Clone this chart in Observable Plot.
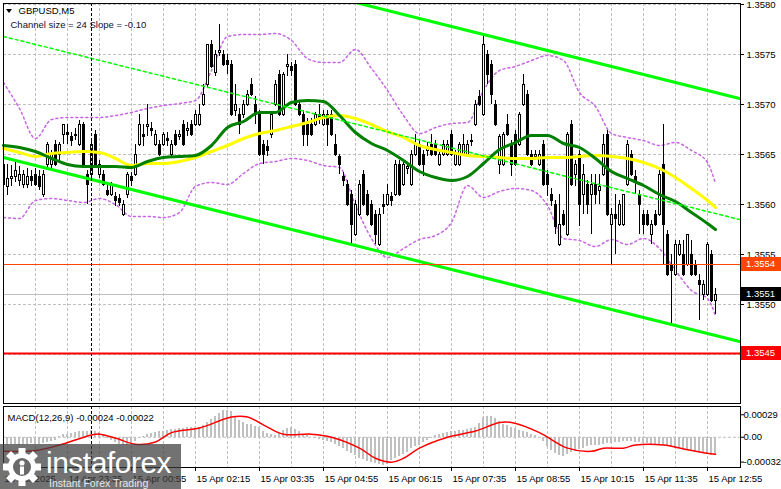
<!DOCTYPE html>
<html>
<head>
<meta charset="utf-8">
<script src="https://cdn.jsdelivr.net/npm/d3@7"></script>
<script src="https://cdn.jsdelivr.net/npm/@observablehq/plot@0.6"></script>
<style>
html,body{margin:0;padding:0;background:#fff;overflow:hidden;}
#wrap{position:relative;width:781px;height:489px;background:#fff;}
#main{position:absolute;left:0;top:0;}
#macd{position:absolute;left:0;top:403px;}
#logo{position:absolute;left:0;top:444px;}
svg{display:block;}
</style>
</head>
<body>
<div id="wrap"><div id="main"></div><div id="macd"></div><svg id="logo" width="181" height="45"></svg></div>
<script>
const FONT = '"Liberation Sans", Arial, sans-serif';

// ---------- data (GBPUSD M5, 15 Apr 2025) ----------
const symbolTitle = "GBPUSD,M5";
const channelText = "Channel size = 24 Slope = -0.10";
const macdTitle = "MACD(12,26,9) -0.00024 -0.00022";
const startTime = "2025-04-14T22:15:00Z";   // first bar
const barMinutes = 5;

const opens = [
1.35640,1.35618,1.35626,1.35628,1.35624,1.35620,1.35620,1.35628,1.35630,1.35628,
1.35610,1.35640,1.35640,1.35660,1.35650,1.35670,1.35672,1.35668,1.35670,1.35660,
1.35680,1.35630,1.35630,1.35670,1.35630,1.35630,1.35614,1.35610,1.35608,1.35606,
1.35590,1.35610,1.35628,1.35630,1.35660,1.35670,1.35678,1.35676,1.35660,1.35660,
1.35660,1.35666,1.35650,1.35670,1.35668,1.35680,1.35674,1.35680,1.35680,1.35680,
1.35700,1.35720,1.35760,1.35732,1.35752,1.35750,1.35744,1.35740,1.35694,1.35690,
1.35690,1.35700,1.35720,1.35700,1.35690,1.35660,1.35658,1.35670,1.35700,1.35730,
1.35690,1.35738,1.35738,1.35740,1.35700,1.35690,1.35680,1.35680,1.35680,1.35690,
1.35680,1.35690,1.35690,1.35660,1.35648,1.35628,1.35620,1.35610,1.35570,1.35590,
1.35630,1.35610,1.35600,1.35590,1.35560,1.35600,1.35600,1.35608,1.35610,1.35640,
1.35620,1.35636,1.35620,1.35650,1.35660,1.35650,1.35654,1.35660,1.35660,1.35640,
1.35650,1.35650,1.35670,1.35640,1.35640,1.35650,1.35650,1.35664,1.35680,1.35708,
1.35690,1.35750,1.35740,1.35700,1.35640,1.35640,1.35680,1.35660,1.35670,1.35660,
1.35700,1.35710,1.35650,1.35648,1.35640,1.35660,1.35630,1.35610,1.35600,1.35560,
1.35590,1.35570,1.35680,1.35630,1.35650,1.35610,1.35620,1.35610,1.35620,1.35614,
1.35630,1.35670,1.35580,1.35590,1.35580,1.35580,1.35620,1.35650,1.35628,1.35610,
1.35590,1.35590,1.35570,1.35590,1.35590,1.35640,1.35570,1.35540,1.35530,1.35550,
1.35550,1.35540,1.35550,1.35540,1.35524,1.35510,1.35510,1.35550,1.35504];
const highs = [
1.35644,1.35640,1.35639,1.35644,1.35638,1.35634,1.35636,1.35634,1.35636,1.35634,
1.35634,1.35662,1.35654,1.35664,1.35662,1.35680,1.35680,1.35672,1.35676,1.35684,
1.35682,1.35634,1.35664,1.35674,1.35644,1.35634,1.35620,1.35622,1.35612,1.35610,
1.35604,1.35632,1.35632,1.35660,1.35690,1.35680,1.35700,1.35682,1.35674,1.35664,
1.35672,1.35672,1.35664,1.35674,1.35674,1.35684,1.35682,1.35684,1.35694,1.35700,
1.35720,1.35760,1.35764,1.35754,1.35780,1.35754,1.35750,1.35744,1.35720,1.35696,
1.35704,1.35714,1.35726,1.35708,1.35694,1.35664,1.35664,1.35692,1.35724,1.35734,
1.35732,1.35750,1.35742,1.35744,1.35704,1.35694,1.35686,1.35686,1.35692,1.35700,
1.35694,1.35694,1.35694,1.35670,1.35650,1.35632,1.35624,1.35614,1.35604,1.35624,
1.35634,1.35614,1.35604,1.35594,1.35596,1.35610,1.35620,1.35612,1.35644,1.35644,
1.35644,1.35642,1.35654,1.35670,1.35664,1.35654,1.35662,1.35670,1.35664,1.35654,
1.35664,1.35664,1.35674,1.35654,1.35662,1.35670,1.35664,1.35670,1.35704,1.35714,
1.35770,1.35754,1.35744,1.35704,1.35670,1.35672,1.35690,1.35664,1.35674,1.35692,
1.35730,1.35714,1.35654,1.35654,1.35654,1.35664,1.35634,1.35616,1.35604,1.35610,
1.35594,1.35672,1.35684,1.35644,1.35654,1.35640,1.35624,1.35630,1.35630,1.35630,
1.35670,1.35674,1.35596,1.35610,1.35604,1.35610,1.35664,1.35654,1.35634,1.35614,
1.35594,1.35594,1.35584,1.35594,1.35634,1.35680,1.35574,1.35550,1.35564,1.35564,
1.35564,1.35570,1.35564,1.35544,1.35530,1.35524,1.35562,1.35554,1.35516];
const lows = [
1.35616,1.35609,1.35618,1.35622,1.35618,1.35616,1.35616,1.35618,1.35618,1.35614,
1.35607,1.35636,1.35636,1.35638,1.35644,1.35660,1.35660,1.35658,1.35664,1.35658,
1.35638,1.35600,1.35626,1.35638,1.35626,1.35618,1.35608,1.35608,1.35598,1.35598,
1.35588,1.35606,1.35618,1.35628,1.35658,1.35658,1.35668,1.35668,1.35658,1.35648,
1.35658,1.35658,1.35648,1.35658,1.35664,1.35658,1.35668,1.35668,1.35678,1.35678,
1.35698,1.35716,1.35736,1.35728,1.35748,1.35738,1.35730,1.35688,1.35688,1.35670,
1.35686,1.35698,1.35708,1.35680,1.35648,1.35640,1.35648,1.35666,1.35698,1.35688,
1.35688,1.35728,1.35728,1.35698,1.35688,1.35658,1.35658,1.35668,1.35678,1.35680,
1.35678,1.35658,1.35668,1.35648,1.35630,1.35618,1.35598,1.35560,1.35568,1.35588,
1.35598,1.35588,1.35578,1.35560,1.35558,1.35590,1.35598,1.35598,1.35608,1.35608,
1.35618,1.35630,1.35618,1.35648,1.35638,1.35628,1.35648,1.35648,1.35648,1.35638,
1.35648,1.35648,1.35648,1.35638,1.35638,1.35648,1.35648,1.35658,1.35678,1.35698,
1.35688,1.35720,1.35700,1.35678,1.35630,1.35638,1.35668,1.35628,1.35638,1.35658,
1.35698,1.35648,1.35638,1.35644,1.35638,1.35618,1.35608,1.35598,1.35570,1.35558,
1.35578,1.35568,1.35618,1.35618,1.35578,1.35590,1.35590,1.35570,1.35600,1.35600,
1.35628,1.35588,1.35540,1.35550,1.35578,1.35578,1.35618,1.35628,1.35610,1.35570,
1.35570,1.35578,1.35560,1.35578,1.35588,1.35540,1.35528,1.35479,1.35528,1.35548,
1.35528,1.35538,1.35528,1.35528,1.35484,1.35504,1.35508,1.35502,1.35490];
const closes = [
1.35620,1.35626,1.35628,1.35634,1.35630,1.35630,1.35628,1.35624,1.35620,1.35618,
1.35630,1.35660,1.35650,1.35640,1.35660,1.35680,1.35670,1.35664,1.35669,1.35680,
1.35640,1.35620,1.35660,1.35640,1.35640,1.35620,1.35610,1.35620,1.35604,1.35602,
1.35600,1.35630,1.35624,1.35650,1.35680,1.35668,1.35680,1.35674,1.35670,1.35650,
1.35670,1.35664,1.35660,1.35660,1.35670,1.35660,1.35676,1.35670,1.35690,1.35690,
1.35710,1.35760,1.35738,1.35750,1.35754,1.35740,1.35740,1.35690,1.35700,1.35680,
1.35700,1.35710,1.35710,1.35690,1.35650,1.35650,1.35654,1.35690,1.35720,1.35690,
1.35730,1.35740,1.35734,1.35700,1.35690,1.35670,1.35670,1.35670,1.35690,1.35686,
1.35690,1.35680,1.35670,1.35650,1.35640,1.35624,1.35600,1.35580,1.35600,1.35620,
1.35600,1.35590,1.35580,1.35570,1.35590,1.35598,1.35610,1.35604,1.35640,1.35610,
1.35640,1.35638,1.35650,1.35660,1.35640,1.35640,1.35658,1.35650,1.35650,1.35650,
1.35660,1.35660,1.35650,1.35650,1.35660,1.35660,1.35660,1.35663,1.35700,1.35700,
1.35760,1.35730,1.35710,1.35680,1.35668,1.35670,1.35670,1.35640,1.35640,1.35690,
1.35720,1.35650,1.35640,1.35650,1.35650,1.35620,1.35620,1.35604,1.35578,1.35580,
1.35580,1.35670,1.35620,1.35640,1.35600,1.35630,1.35600,1.35620,1.35610,1.35618,
1.35660,1.35590,1.35590,1.35586,1.35600,1.35610,1.35660,1.35630,1.35624,1.35600,
1.35580,1.35580,1.35580,1.35580,1.35630,1.35580,1.35530,1.35534,1.35560,1.35560,
1.35530,1.35570,1.35530,1.35530,1.35520,1.35520,1.35560,1.35504,1.35510];

// moving averages / bands, read every 4th bar (+ last bar)
const maGreen = [1.35659,1.35657,1.35653,1.35646,1.35640,1.35638,1.35638,1.35638,1.35637,1.35643,1.35647,1.35648,1.35649,1.35659,1.35677,1.35683,1.35692,1.35692,1.35702,1.35704,1.35703,1.35689,1.35672,1.35661,1.35654,1.35644,1.35633,1.35627,1.35624,1.35628,1.35641,1.35655,1.35662,1.35669,1.35669,1.35661,1.35657,1.35646,1.35633,1.35626,1.35619,1.35610,1.35603,1.35592,1.35581,1.35575];
const maYellow = [1.35656,1.35652,1.35648,1.35651,1.35652,1.35653,1.35652,1.35646,1.35639,1.35641,1.35641,1.35643,1.35647,1.35653,1.35659,1.35666,1.35671,1.35674,1.35678,1.35682,1.35687,1.35689,1.35686,1.35680,1.35673,1.35667,1.35659,1.35655,1.35652,1.35649,1.35648,1.35647,1.35646,1.35646,1.35647,1.35647,1.35648,1.35649,1.35648,1.35646,1.35642,1.35636,1.35627,1.35616,1.35604,1.35597];
const bandUpper = [1.35722,1.35696,1.35666,1.35685,1.35687,1.35687,1.35687,1.35689,1.35692,1.35696,1.35699,1.35701,1.35704,1.35734,1.35768,1.35770,1.35770,1.35771,1.35764,1.35746,1.35742,1.35742,1.35755,1.35736,1.35714,1.35689,1.35671,1.35677,1.35681,1.35682,1.35714,1.35734,1.35738,1.35744,1.35749,1.35744,1.35712,1.35698,1.35671,1.35667,1.35664,1.35659,1.35662,1.35654,1.35642,1.35621];
const bandLower = [1.35587,1.35586,1.35604,1.35606,1.35604,1.35602,1.35606,1.35600,1.35588,1.35588,1.35587,1.35592,1.35618,1.35622,1.35620,1.35631,1.35641,1.35643,1.35646,1.35644,1.35639,1.35637,1.35599,1.35566,1.35547,1.35556,1.35565,1.35569,1.35582,1.35619,1.35607,1.35613,1.35616,1.35614,1.35599,1.35566,1.35564,1.35558,1.35565,1.35560,1.35566,1.35556,1.35534,1.35514,1.35506,1.35489];

// regression channel (end points)
const channelTimes = ["2025-04-14T22:15:00Z", "2025-04-15T13:35:00Z"];
const channelUpper = [1.35890, 1.35706];
const channelMiddle = [1.35768, 1.35585];
const channelLower = [1.35647, 1.35463];

// horizontal levels and separator
const orangeLevel = 1.3554;
const bidLevel = 1.3551;
const redLevel = 1.3545;
const separatorTime = "2025-04-15T00:05:00Z";

// price axis
const priceTicks = [1.3545, 1.3550, 1.3555, 1.3560, 1.3565, 1.3570, 1.3575, 1.3580];

// MACD histogram (one per bar)
const macdHist = [
-0.00010,-0.00010,-0.00009,-0.00009,-0.00010,-0.00009,-0.00009,-0.00008,-0.00009,-0.00009,
-0.00008,-0.00007,-0.00006,-0.00004,0.00001,0.00003,0.00004,0.00005,0.00006,0.00007,
0.00008,0.00008,0.00009,0.00008,0.00006,0.00003,-0.00001,-0.00004,-0.00007,-0.00009,
-0.00010,-0.00010,-0.00008,-0.00005,-0.00002,0.00001,0.00003,0.00005,0.00006,0.00007,
0.00008,0.00009,0.00010,0.00010,0.00011,0.00011,0.00012,0.00012,0.00012,0.00013,
0.00015,0.00019,0.00023,0.00027,0.00031,0.00034,0.00035,0.00033,0.00026,0.00022,
0.00019,0.00017,0.00016,0.00014,0.00012,0.00008,0.00005,0.00003,0.00002,0.00006,
0.00009,0.00011,0.00012,0.00010,0.00008,0.00004,0.00002,0.00000,-0.00002,-0.00003,
-0.00004,-0.00005,-0.00007,-0.00009,-0.00012,-0.00015,-0.00018,-0.00021,-0.00024,-0.00027,
-0.00029,-0.00031,-0.00033,-0.00034,-0.00035,-0.00036,-0.00035,-0.00030,-0.00027,-0.00025,
-0.00022,-0.00019,-0.00015,-0.00012,-0.00010,-0.00007,-0.00004,-0.00001,0.00002,0.00004,
0.00005,0.00006,0.00007,0.00008,0.00009,0.00009,0.00010,0.00011,0.00012,0.00018,
0.00025,0.00027,0.00027,0.00024,0.00020,0.00017,0.00015,0.00013,0.00011,0.00009,
0.00007,0.00006,0.00004,0.00002,0.00000,-0.00006,-0.00012,-0.00017,-0.00021,-0.00024,
-0.00025,-0.00022,-0.00020,-0.00018,-0.00016,-0.00014,-0.00012,-0.00011,-0.00010,-0.00010,
-0.00009,-0.00008,-0.00008,-0.00007,-0.00007,-0.00006,-0.00006,-0.00006,-0.00007,-0.00007,
-0.00008,-0.00008,-0.00009,-0.00009,-0.00009,-0.00010,-0.00011,-0.00013,-0.00014,-0.00015,
-0.00016,-0.00017,-0.00018,-0.00019,-0.00020,-0.00021,-0.00022,-0.00023,-0.00024];
// MACD signal line, read at these bars
const signalBars = [0,8,14,22,24,28,33,38,42,49,57,61,66,70,77,82,89,93,97,100,104,111,118,124,127,134,141,147,150,155,158,165,170,175,178];
const signalValues = [-0.00018,-0.00017,-0.00010,0.00003,0.00004,-0.00001,-0.00009,-0.00006,0.00006,0.00012,0.00026,0.00026,0.00013,0.00004,0.00004,0.00000,-0.00014,-0.00027,-0.00032,-0.00027,-0.00014,0.00000,0.00008,0.00019,0.00019,0.00006,-0.00014,-0.00018,-0.00014,-0.00014,-0.00010,-0.00010,-0.00015,-0.00020,-0.00022];
const macdTicks = [0.00029, 0, -0.00032];

// time axis labels
const timeTicks = ["2025-04-14T22:15:00Z","2025-04-14T23:35:00Z","2025-04-15T00:55:00Z","2025-04-15T02:15:00Z","2025-04-15T03:35:00Z","2025-04-15T04:55:00Z","2025-04-15T06:15:00Z","2025-04-15T07:35:00Z","2025-04-15T08:55:00Z","2025-04-15T10:15:00Z","2025-04-15T11:35:00Z","2025-04-15T12:55:00Z"];
const timeLabels = ["14 Apr 2025","14 Apr 23:35","15 Apr 00:55","15 Apr 02:15","15 Apr 03:35","15 Apr 04:55","15 Apr 06:15","15 Apr 07:35","15 Apr 08:55","15 Apr 10:15","15 Apr 11:35","15 Apr 12:55"];

// ---------- build ----------
const MIN = 60000;
const t0 = new Date(startTime).getTime();
const barTime = i => new Date(t0 + i * barMinutes * MIN);
const xDomain = [new Date(t0), new Date(t0 + 921.25 * MIN)];
const half = 75 * 1000;      // half body width
const halfH = 112 * 1000;    // half histogram width

const candles = opens.map((o, i) => ({t: barTime(i), o, h: highs[i], l: lows[i], c: closes[i]}));
const sampleBars = d3.range(0, 177, 4).concat([178]);
const series = arr => arr.map((v, k) => ({t: barTime(sampleBars[k]), v}));
const chan = arr => arr.map((v, k) => ({t: new Date(channelTimes[k]), v}));
const gridTimes = d3.range(1, 23).map(k => new Date(t0 + k * 40 * MIN));
const sepT = new Date(separatorTime);

const style = {fontFamily: FONT, fontSize: "9.5px", color: "#000", background: "transparent", overflow: "visible"};
const grid = {stroke: "#c0c0c0", strokeDasharray: "3,2"};

const main = Plot.plot({
  width: 781, height: 405,
  marginLeft: 3, marginRight: 41, marginTop: 3, marginBottom: 2,
  style,
  x: {type: "utc", domain: xDomain, axis: null},
  y: {domain: [1.35401, 1.35801], axis: "right", ticks: priceTicks, tickFormat: d => d.toFixed(4), tickSize: 3, tickPadding: 3, label: null},
  marks: [
    Plot.ruleX(gridTimes, grid),
    Plot.ruleY(priceTicks, grid),
    Plot.line(series(bandUpper), {x: "t", y: "v", stroke: "#c864e6", strokeDasharray: "2,3", curve: "monotone-x", clip: true}),
    Plot.line(series(bandLower), {x: "t", y: "v", stroke: "#c864e6", strokeDasharray: "2,3", curve: "monotone-x", clip: true}),
    Plot.ruleY([bidLevel], {stroke: "#c0c0c0"}),
    Plot.ruleX(candles, {x: "t", y1: "l", y2: "h", stroke: "#000", clip: true}),
    Plot.rect(candles, {x1: d => new Date(+d.t - half), x2: d => new Date(+d.t + half), y1: "o", y2: "c",
      fill: d => d.c > d.o ? "#ffffff" : "#000000", stroke: "#000", clip: true, shapeRendering: "crispEdges"}),
    Plot.line(series(maYellow), {x: "t", y: "v", stroke: "#ffff00", strokeWidth: 3, curve: "monotone-x"}),
    Plot.line(series(maGreen), {x: "t", y: "v", stroke: "#008000", strokeWidth: 3, curve: "monotone-x"}),
    Plot.line(chan(channelMiddle), {x: "t", y: "v", stroke: "#00ff00", strokeDasharray: "3,3", clip: true}),
    Plot.line(chan(channelUpper), {x: "t", y: "v", stroke: "#00ff00", strokeWidth: 3, clip: true}),
    Plot.line(chan(channelLower), {x: "t", y: "v", stroke: "#00ff00", strokeWidth: 3, clip: true}),
    Plot.ruleY([orangeLevel], {stroke: "#ff4500"}),
    Plot.ruleY([redLevel], {stroke: "#ff0000", strokeWidth: 2, dy: -1}),
    Plot.ruleX([sepT], {stroke: "#000", strokeDasharray: "3,2"}),
    Plot.frame({stroke: "#000"}),
    Plot.text([symbolTitle], {text: d => d, frameAnchor: "top-left", dx: 15, dy: 7.5, textAnchor: "start", lineAnchor: "middle"}),
    Plot.text([channelText], {text: d => d, frameAnchor: "top-left", dx: 7, dy: 21, textAnchor: "start", lineAnchor: "middle", fill: "#101030"})
  ]
});
document.getElementById("main").appendChild(main);

// price tags on the right axis, positioned by Plot's y scale
{
  const ys = main.scale("y");
  const svg = d3.select(main);
  svg.append("path").attr("d", "M6,9 L12,9 L9,13 Z").attr("fill", "#000");
  [[orangeLevel, "#ff4500", 0], [bidLevel, "#000000", 0], [redLevel, "#ff0000", -1]].forEach(([p, col, off]) => {
    const y = ys.apply(p) + off;
    svg.append("rect").attr("x", 741).attr("y", y - 7).attr("width", 40).attr("height", 14).attr("fill", col);
    svg.append("text").attr("x", 746).attr("y", y).attr("dy", "0.35em").attr("fill", "#fff")
      .attr("text-anchor", "start").attr("font-family", FONT).attr("font-size", "9.5px").text(p.toFixed(4));
  });
}

const macdData = macdHist.map((v, i) => ({t: barTime(i), v}));
const signalData = signalValues.map((v, k) => ({t: barTime(signalBars[k]), v}));

const macd = Plot.plot({
  width: 781, height: 86,
  marginLeft: 3, marginRight: 41, marginTop: 3, marginBottom: 22,
  style,
  x: {type: "utc", domain: xDomain, axis: null},
  y: {domain: [-0.000389, 0.000396], axis: "right", ticks: macdTicks, tickFormat: d => d === 0 ? "0.00" : d.toFixed(5), tickSize: 3, tickPadding: 0, label: null},
  marks: [
    Plot.ruleX(gridTimes, grid),
    Plot.ruleY([0], grid),
    Plot.rect(macdData, {x1: d => new Date(+d.t - halfH), x2: d => new Date(+d.t + halfH), y1: () => 0, y2: "v", fill: "#c0c0c0", shapeRendering: "crispEdges", clip: true}),
    Plot.line(signalData, {x: "t", y: "v", stroke: "#ff0000", curve: "catmull-rom", clip: true}),
    Plot.ruleX([sepT], {stroke: "#000", strokeDasharray: "3,2"}),
    Plot.frame({stroke: "#000"}),
    Plot.text([macdTitle], {text: d => d, frameAnchor: "top-left", dx: 4, dy: 11, textAnchor: "start", lineAnchor: "middle"}),
    Plot.text(timeLabels, {x: (d, i) => new Date(timeTicks[i]), text: d => d, frameAnchor: "bottom", dy: 11, dx: 1, textAnchor: "start", lineAnchor: "middle"})
  ]
});
document.getElementById("macd").appendChild(macd);
{
  const xs = macd.scale("x");
  const svg = d3.select(macd);
  timeTicks.forEach(t => {
    const x = Math.round(xs.apply(new Date(t))) + 0.5;
    svg.append("line").attr("x1", x).attr("x2", x).attr("y1", 64.5).attr("y2", 68).attr("stroke", "#000");
  });
}

// watermark logo
{
  const g = d3.select("#logo");
  g.append("rect").attr("width", 181).attr("height", 45).attr("fill", "rgba(60,60,60,0.72)");
  const gear = g.append("g").attr("transform", "translate(22,23)");
  for (let k = 0; k < 8; k++) {
    gear.append("rect").attr("x", -3.5).attr("y", -19).attr("width", 7).attr("height", 8)
      .attr("fill", "#fff").attr("transform", `rotate(${k * 45})`);
  }
  gear.append("circle").attr("r", 14).attr("fill", "#fff");
  gear.append("circle").attr("r", 9).attr("fill", "#6a6a6a");
  gear.append("circle").attr("cy", -4).attr("r", 2.6).attr("fill", "#fff");
  gear.append("rect").attr("x", -2).attr("y", -0.5).attr("width", 4).attr("height", 8).attr("fill", "#fff");
  g.append("text").attr("x", 46).attr("y", 29).attr("fill", "#fff").attr("font-family", FONT)
    .attr("font-size", "30px").attr("letter-spacing", "-0.5").attr("text-anchor", "start").text("instaforex");
  g.append("text").attr("x", 49).attr("y", 43).attr("fill", "#e8e8e8").attr("font-family", FONT)
    .attr("font-size", "10.5px").attr("text-anchor", "start").text("Instant Forex Trading");
}
</script>
</body>
</html>
